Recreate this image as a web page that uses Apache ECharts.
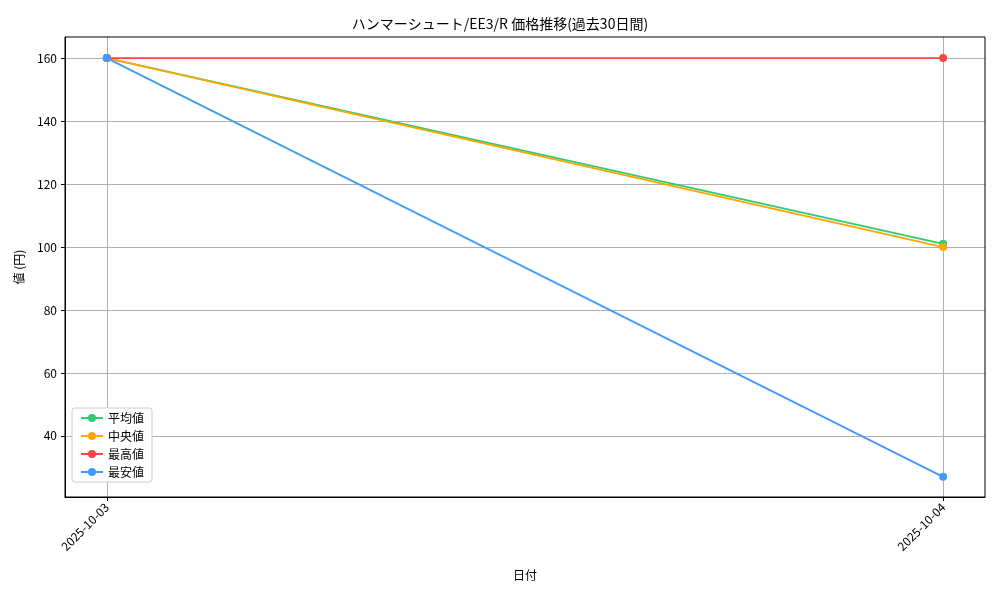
<!DOCTYPE html>
<html><head><meta charset="utf-8">
<script src="https://cdn.jsdelivr.net/npm/echarts@6/dist/echarts.min.js"></script>
<style>html,body{margin:0;padding:0;background:#fff}#c{width:1000px;height:600px}</style>
</head><body><div id="c"></div>
<script>
const dates = ['2025-10-03', '2025-10-04'];
const avgVals = [160, 101];
const medVals = [160, 100];
const maxVals = [160, 160];
const minVals = [160, 27];
const names = ['平均値', '中央値', '最高値', '最安値'];
const colors = ['#2ecc71', '#ffa500', '#ff4444', '#4499ff'];
const F = 'Noto Sans CJK JP';
const toPts = v => v.map((y, i) => [i, y]);
const chart = echarts.init(document.getElementById('c'));
chart.setOption({
  animation: false,
  textStyle: { fontFamily: F },
  title: { text: 'ハンマーシュート/EE3/R 価格推移(過去30日間)', left: 'center', top: 12,
    textStyle: { fontSize: 14, fontWeight: 'normal', color: '#000', fontFamily: F } },
  grid: { left: 65, right: 15, top: 37, bottom: 103 },
  legend: { orient: 'vertical', left: 72, top: 408, itemGap: 6, itemWidth: 22, itemHeight: 10,
    data: names, backgroundColor: '#fff', borderColor: '#ccc', borderWidth: 1, borderRadius: 3, padding: [4, 8],
    textStyle: { fontSize: 12, color: '#000', fontFamily: F } },
  xAxis: { type: 'value', min: -0.05, max: 1.05, interval: 1,
    axisLine: { show: true, onZero: false, lineStyle: { color: '#000' } },
    axisTick: { show: true, length: 4, lineStyle: { color: '#000' }, customValues: [0, 1] },
    axisLabel: { rotate: 45, fontSize: 12, color: '#000', customValues: [0, 1], formatter: v => dates[Math.round(v)] || '' },
    splitLine: { show: true, lineStyle: { color: '#b0b0b0' } },
    name: '日付', nameLocation: 'middle', nameGap: 72, nameTextStyle: { fontSize: 12, color: '#000' } },
  yAxis: { type: 'value', min: 20.6, max: 166.7,
    axisLine: { show: true, onZero: false, lineStyle: { color: '#000' } },
    axisTick: { show: true, length: 4, lineStyle: { color: '#000' }, customValues: [40,60,80,100,120,140,160] },
    axisLabel: { fontSize: 12, color: '#000', customValues: [40,60,80,100,120,140,160] },
    splitLine: { show: true, lineStyle: { color: '#b0b0b0' }, customValues: [40,60,80,100,120,140,160] },
    name: '値 (円)', nameLocation: 'middle', nameGap: 40, nameTextStyle: { fontSize: 12, color: '#000' } },
  graphic: [{ type: 'rect', shape: { x: 65, y: 37, width: 920, height: 460 }, style: { fill: 'none', stroke: '#000', lineWidth: 1 }, z: 100 }],
  series: [avgVals, medVals, maxVals, minVals].map((v, i) => ({
    name: names[i], type: 'line', data: toPts(v), color: colors[i],
    symbol: 'circle', symbolSize: 8, lineStyle: { width: 1.8 }, z: 2 + i
  }))
});
</script></body></html>
